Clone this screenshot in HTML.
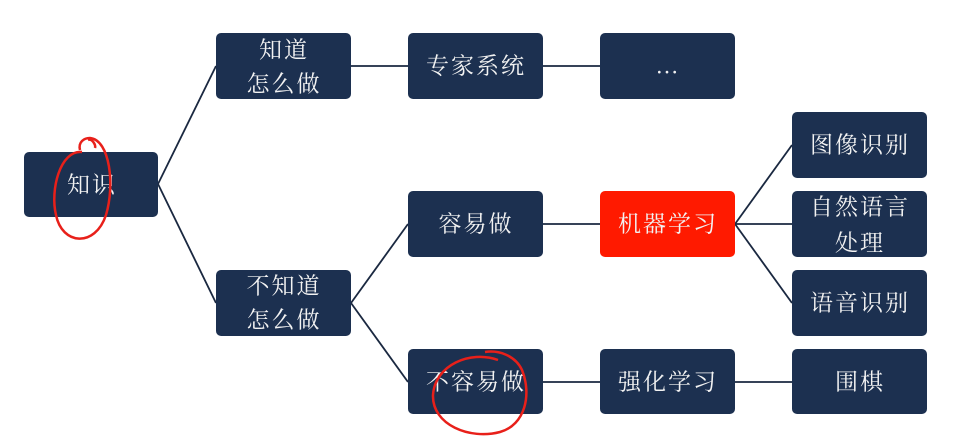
<!DOCTYPE html>
<html><head><meta charset="utf-8"><style>
html,body{margin:0;padding:0;background:#fff;}
svg{display:block;}
text{font-family:"Liberation Serif","Noto Serif CJK SC",serif;font-size:23px;fill:#f2f2f2;text-anchor:middle;dominant-baseline:central;letter-spacing:2px;}
</style></head><body>
<svg width="964" height="444" viewBox="0 0 964 444">
<g stroke="#1a2840" stroke-width="1.8" fill="none">
<line x1="158" y1="184" x2="216" y2="66"/>
<line x1="158" y1="184" x2="216" y2="303"/>
<line x1="351" y1="66" x2="408" y2="66"/>
<line x1="543" y1="66" x2="600" y2="66"/>
<line x1="351" y1="303" x2="408" y2="224"/>
<line x1="351" y1="303" x2="408" y2="382"/>
<line x1="543" y1="224" x2="600" y2="224"/>
<line x1="543" y1="382" x2="600" y2="382"/>
<line x1="735" y1="382" x2="792" y2="382"/>
<line x1="735" y1="224" x2="792" y2="145"/>
<line x1="735" y1="224" x2="792" y2="224"/>
<line x1="735" y1="224" x2="792" y2="303"/>
</g>
<g fill="#1c3050">
<rect x="24" y="152" width="134" height="65" rx="5"/>
<rect x="216" y="33" width="135" height="66" rx="5"/>
<rect x="408" y="33" width="135" height="66" rx="5"/>
<rect x="600" y="33" width="135" height="66" rx="5"/>
<rect x="408" y="191" width="135" height="66" rx="5"/>
<rect x="792" y="112" width="135" height="66" rx="5"/>
<rect x="792" y="191" width="135" height="66" rx="5"/>
<rect x="792" y="270" width="135" height="66" rx="5"/>
<rect x="216" y="270" width="135" height="66" rx="5"/>
<rect x="408" y="349" width="135" height="65" rx="5"/>
<rect x="600" y="349" width="135" height="65" rx="5"/>
<rect x="792" y="349" width="135" height="65" rx="5"/>
</g>
<rect x="600" y="191" width="135" height="66" rx="5" fill="#ff1a00"/>
<g transform="translate(1,0)">
<text x="91" y="185">知识</text>
<text x="283" y="50">知道</text>
<text x="283" y="84">怎么做</text>
<text x="475" y="66">专家系统</text>
<text x="667" y="66">…</text>
<text x="475" y="224">容易做</text>
<text x="667" y="224">机器学习</text>
<text x="859" y="145">图像识别</text>
<text x="859" y="207">自然语言</text>
<text x="859" y="243">处理</text>
<text x="859" y="303">语音识别</text>
<text x="283" y="286">不知道</text>
<text x="283" y="320">怎么做</text>
<text x="475" y="382">不容易做</text>
<text x="667" y="382">强化学习</text>
<text x="859" y="382">围棋</text>
</g>
<g stroke="#e8201a" stroke-width="2.5" fill="none">
<path d="M82 152 C 60 150, 50 190, 56 215 C 62 245, 95 248, 106 215 C 115 185, 110 140, 90 138 C 84 138, 78 142, 80 150 M88 140 C 92 138, 96 145, 95 148"/>
<path d="M498 360 C 470 350, 435 365, 433 395 C 432 425, 470 440, 500 432 C 525 425, 532 395, 522 370 C 515 355, 498 350, 485 352"/>
</g>
</svg>
</body></html>
